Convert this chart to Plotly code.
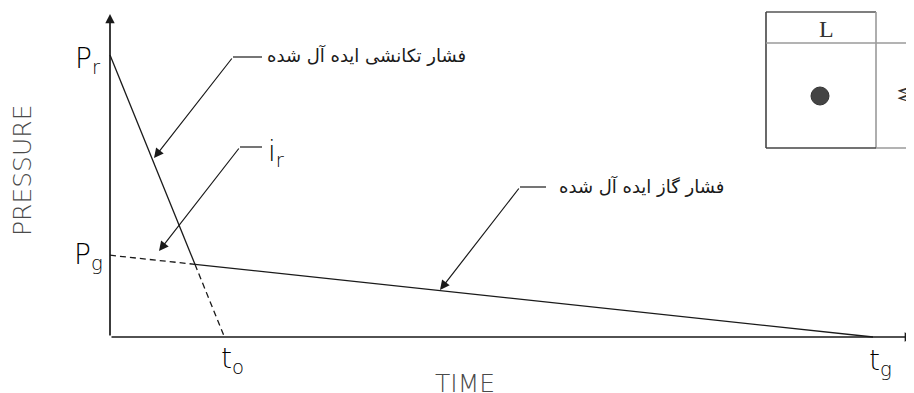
import plotly.graph_objects as go

# values of the idealised pressure-time curves (arbitrary units)
t_o = 1.5          # time where the reflected pressure line reaches zero
t_g = 10.0         # time where the gas pressure line reaches zero
P_r = 10.0         # peak reflected pressure
P_g = 2.9          # gas pressure at t = 0

label_pr = "P<sub>r</sub>"
label_pg = "P<sub>g</sub>"
label_to = "t<sub>o</sub>"
label_tg = "t<sub>g</sub>"
label_ir = "i<sub>r</sub>"
label_reflected = "فشار تکانشی ایده آل شده"
label_gas = "فشار گاز ایده آل شده"

# the page body has an 8px margin, so the figure starts at (8, 8)
OFF = 8
W, H = 914 - OFF, 393 - OFF
X0, Y0 = 110, 337          # pixel position of the origin in the window
SX, SY = 76.3, 28.2        # pixels per data unit

def px(x, y):
    # window pixel -> data coordinates (used for decoration only)
    return (x - X0) / SX, (Y0 - y) / SY

# crossing of the two straight lines
t_c = (P_r - P_g) / (P_r / t_o - P_g / t_g)
p_c = P_r * (1 - t_c / t_o)

INK = "#1a1a1a"
GREY = "#4a4a4a"
cad = "DejaVu Sans"

fig = go.Figure()

def line(xs, ys, dash="solid", color=INK, width=1.3):
    fig.add_trace(go.Scatter(x=xs, y=ys, mode="lines", hoverinfo="skip",
                             line=dict(color=color, width=width, dash=dash)))

# reflected pressure: solid until the crossing, dashed afterwards
line([0, t_c], [P_r, p_c])
line([t_c, t_o], [p_c, 0], dash="6px,4px")
# gas pressure: dashed until the crossing, solid afterwards
line([0, t_c], [P_g, p_c], dash="6px,4px")
line([t_c, t_g], [p_c, 0])

# leader lines with arrows
leaders = [
    ((154, 158), (233, 57), (262, 57)),
    ((159, 251), (240, 147), (262, 147)),
    ((440, 290), (520, 187), (546, 187)),
]
for tip, elbow, end in leaders:
    e = px(*elbow)
    n = px(*end)
    t = px(*tip)
    line([e[0], n[0]], [e[1], n[1]], width=1.2)
    fig.add_annotation(x=t[0], y=t[1], ax=e[0], ay=e[1], xref="x", yref="y",
                       axref="x", ayref="y", text="", showarrow=True,
                       arrowhead=2, arrowsize=1.6, arrowwidth=1.2, arrowcolor=INK,
                       standoff=0, startstandoff=0)

# axes drawn as arrows
top = px(110, 14)
right = px(914, 337)
for hx, hy in [(0, top[1]), (right[0], 0)]:
    fig.add_annotation(x=hx, y=hy, ax=0, ay=0, xref="x", yref="y",
                       axref="x", ayref="y", text="", showarrow=True,
                       arrowhead=2, arrowsize=1.1, arrowwidth=1.7,
                       arrowcolor=INK, standoff=0)

def text(pos, s, size, xanchor="center", color="#000000", angle=0, family=cad,
         weight=200):
    x, y = px(*pos)
    fig.add_annotation(x=x, y=y, xref="x", yref="y", text=s, showarrow=False,
                       xanchor=xanchor, yanchor="middle", textangle=angle,
                       font=dict(family=family, size=size, color=color,
                                 weight=weight))

text((88, 60), label_pr, 28)
text((88, 256), label_pg, 28)
text((232, 360), label_to, 28)
text((880, 362), label_tg, 28)
text((266, 153), label_ir, 28, xanchor="left")
text((265, 55), label_reflected, 18, xanchor="left", color=INK, weight=400)
text((557, 186), label_gas, 18, xanchor="left", color=INK, weight=400)
text((465, 383), "TIME", 25, color=GREY)
text((22, 171), "PRESSURE", 25, color=GREY, angle=-90)

# plan sketch in the upper right corner
def seg(a, b, color, width=1.6):
    x1, y1 = px(*a)
    x2, y2 = px(*b)
    fig.add_shape(type="line", x0=x1, y0=y1, x1=x2, y1=y2, xref="x", yref="y",
                  line=dict(color=color, width=width))

seg((766, 12), (876, 12), "#555555")
seg((766, 12), (766, 148), "#444444")
seg((876, 12), (876, 148), "#9a9a9a")
seg((766, 43), (914, 43), "#9a9a9a")
seg((766, 148), (876, 148), "#444444")
seg((876, 148), (914, 148), "#9a9a9a")
c1 = px(811, 87)
c2 = px(829, 105)
fig.add_shape(type="circle", x0=c1[0], y0=c1[1], x1=c2[0], y1=c2[1],
              xref="x", yref="y", fillcolor="#444444",
              line=dict(color="#333333", width=1))
text((826, 29), "L", 24, family="Liberation Serif", color="#333333",
     weight=400)
text((905, 94), "W", 20, family="Liberation Serif", color="#333333",
     angle=90, weight=400)

xr = [(OFF - X0) / SX, (914 - X0) / SX]
yr = [(Y0 - 393) / SY, (Y0 - OFF) / SY]
fig.update_layout(
    width=W, height=H, showlegend=False,
    margin=dict(l=0, r=0, t=0, b=0, pad=0),
    paper_bgcolor="white", plot_bgcolor="white",
    xaxis=dict(range=xr, visible=False, fixedrange=True),
    yaxis=dict(range=yr, visible=False, fixedrange=True),
)

fig.write_html("out.html")
